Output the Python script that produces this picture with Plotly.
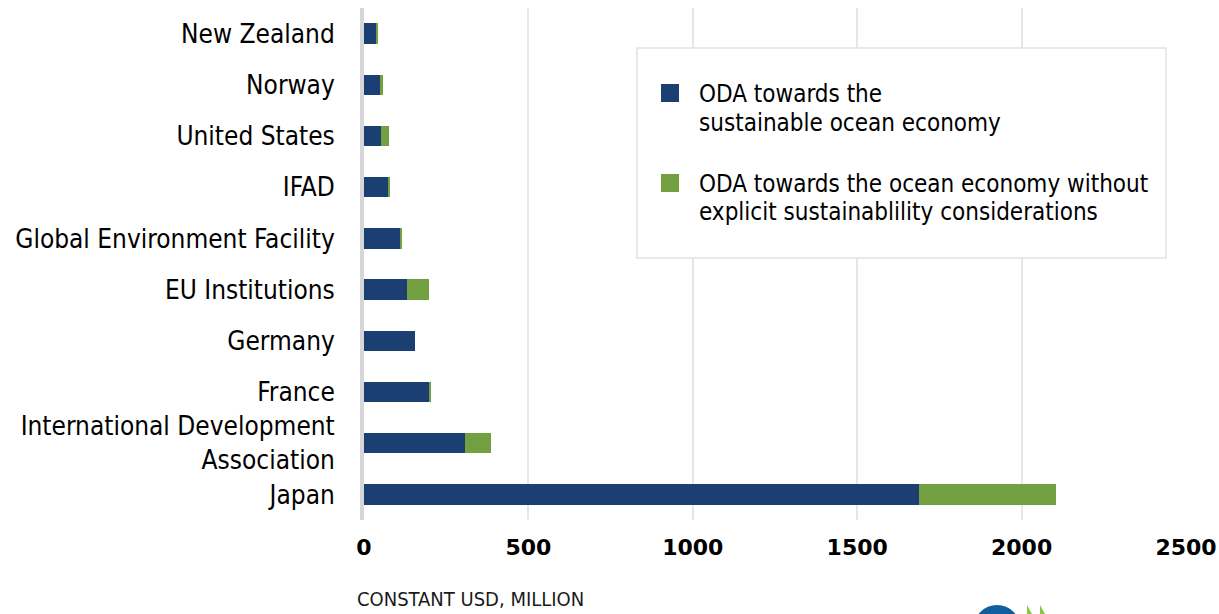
import plotly.graph_objects as go

categories = ["New Zealand", "Norway", "United States", "IFAD",
              "Global Environment Facility", "EU Institutions", "Germany",
              "France", "International Development<br>Association", "Japan"]
sustainable = [37, 49, 52, 74, 112, 131, 156, 199, 307, 1689]
other = [6, 10, 24, 3, 5, 67, 0, 5, 78, 416]
x_ticks = [0, 500, 1000, 1500, 2000, 2500]
series_names = ["ODA towards the sustainable ocean economy",
                "ODA towards the ocean economy without explicit sustainablility considerations"]

BLUE = "#1b3f73"
GREEN = "#72a041"
W, H = 1219, 614
L, R, T, B = 364, 33, 8, 94
PW, PH = W - L - R, H - T - B

def px(x):
    return (x - L) / PW

def py(y):
    return (H - B - y) / PH

fig = go.Figure()
fig.add_trace(go.Bar(y=categories, x=sustainable, orientation="h",
                     name=series_names[0], marker=dict(color=BLUE, line=dict(width=0))))
fig.add_trace(go.Bar(y=categories, x=other, orientation="h",
                     name=series_names[1], marker=dict(color=GREEN, line=dict(width=0))))

narrow = "DejaVu Sans Condensed, Liberation Sans Narrow, sans-serif"

shapes = [
    # legend box
    dict(type="rect", xref="paper", yref="paper", x0=px(637), x1=px(1166),
         y0=py(258), y1=py(48), fillcolor="white", line=dict(color="#e2e2e2", width=1.5), layer="above"),
    dict(type="rect", xref="paper", yref="paper", x0=px(661), x1=px(679),
         y0=py(102), y1=py(84), fillcolor=BLUE, line=dict(width=0), layer="above"),
    dict(type="rect", xref="paper", yref="paper", x0=px(661), x1=px(679),
         y0=py(192), y1=py(174), fillcolor=GREEN, line=dict(width=0), layer="above"),
    # logo fragment
    dict(type="circle", xref="paper", yref="paper", x0=px(973.5), x1=px(1020.5),
         y0=py(652), y1=py(605), fillcolor="#0f5f9e", line=dict(width=0)),
    dict(type="path", xref="paper", yref="paper",
         path=f"M {px(1027)} {py(605)} L {px(1027)} {py(614)} L {px(1032)} {py(614)} Z",
         fillcolor="#8cc63f", line=dict(width=0)),
    dict(type="path", xref="paper", yref="paper",
         path=f"M {px(1040)} {py(605)} L {px(1040)} {py(614)} L {px(1045)} {py(614)} Z",
         fillcolor="#8cc63f", line=dict(width=0)),
]

leg_font = dict(family=narrow, size=24, color="black")
annotations = []
for text, ycen in [("ODA towards the", 94), ("sustainable ocean economy", 123),
                   ("ODA towards the ocean economy without", 184),
                   ("explicit sustainablility considerations", 212)]:
    annotations.append(dict(xref="paper", yref="paper", x=px(697), y=py(ycen),
                            xanchor="left", yanchor="middle", text=text,
                            showarrow=False, font=leg_font))
annotations.append(dict(xref="paper", yref="paper", x=px(355), y=py(599),
                        xanchor="left", yanchor="middle", text="CONSTANT USD, MILLION",
                        showarrow=False, font=dict(family=narrow, size=20, color="#1a1a1a")))

fig.update_layout(
    width=W, height=H,
    margin=dict(l=L, r=R, t=T, b=B, autoexpand=False),
    barmode="stack", bargap=0.6,
    showlegend=False,
    plot_bgcolor="white", paper_bgcolor="white",
    shapes=shapes, annotations=annotations,
    xaxis=dict(range=[0, 2500], tickvals=x_ticks, ticktext=[str(v) for v in x_ticks],
               showgrid=True, gridcolor="#e6e6e6", gridwidth=2, zeroline=False,
               showline=False, ticks="", ticklabelstandoff=12, automargin=False,
               tickfont=dict(family="DejaVu Sans", size=22, color="black", weight="bold")),
    yaxis=dict(autorange="reversed", showline=True, linecolor="#d6d6d6", linewidth=4,
               showgrid=False, zeroline=False, ticks="", ticklabelstandoff=20, automargin=False,
               tickfont=dict(family=narrow, size=26, color="black")),
)

fig.write_html("out.html", config={"displayModeBar": False},
               post_script="document.body.style.margin='0';document.body.style.overflow='hidden';")
